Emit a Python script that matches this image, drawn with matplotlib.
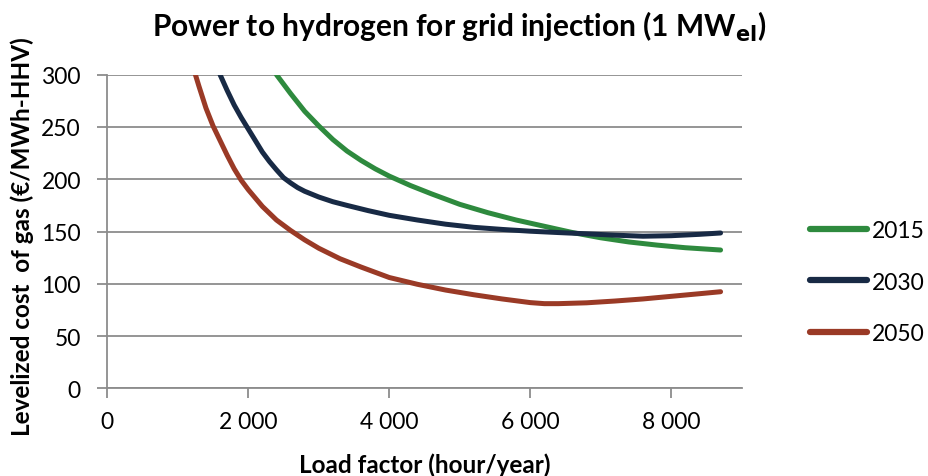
import matplotlib
matplotlib.use("Agg")
import matplotlib.pyplot as plt
from matplotlib.ticker import FuncFormatter

plt.rcParams['font.family'] = ['Lato', 'DejaVu Sans']

# Data
x_2015 = [2400, 2600, 2800, 3000, 3200, 3400, 3600, 3800, 4000, 4300, 4600, 5000, 5400, 5800,
          6200, 6600, 7000, 7400, 7800, 8200, 8700]
y_2015 = [300, 282, 265, 251, 238, 227, 218, 210, 203, 194, 186, 176, 168, 161,
          155, 149, 144, 140, 137, 134.5, 132.3]

x_2030 = [1600, 1700, 1800, 1900, 2000, 2100, 2200, 2300, 2400, 2500, 2600, 2700, 2800, 3000,
          3200, 3400, 3700, 4000, 4400, 4800, 5200, 5600, 6000, 6400, 6800, 7200, 7600, 8000,
          8400, 8700]
y_2030 = [300, 285, 271, 259, 248, 237, 226, 217, 209, 201.5, 196.5, 192, 188.5, 183,
          178.5, 175, 170, 165.5, 161, 157, 154, 152, 150.3, 149, 147.8, 146.5, 145.5, 146,
          147.3, 148.6]

x_2050 = [1250, 1300, 1400, 1500, 1600, 1700, 1800, 1900, 2000, 2200, 2400, 2600, 2800, 3000,
          3300, 3600, 4000, 4400, 4800, 5200, 5600, 6000, 6200, 6400, 6800, 7200, 7600, 8000,
          8400, 8700]
y_2050 = [300, 289, 268, 251, 237, 223, 210, 199, 190, 174, 161, 151, 142, 134,
          124, 116, 106, 99.5, 94, 89.5, 85.5, 82, 81, 81, 81.8, 83.5, 85.5, 88,
          90.5, 92.4]

series = [
    ("2015", x_2015, y_2015, "#2E8A3E"),
    ("2030", x_2030, y_2030, "#182A45"),
    ("2050", x_2050, y_2050, "#9A3A26"),
]

x_ticks = [0, 2000, 4000, 6000, 8000]
y_ticks = [0, 50, 100, 150, 200, 250, 300]

fig = plt.figure(figsize=(9.29, 4.77), dpi=100)
ax = fig.add_axes([0.1155, 0.1838, 0.6829, 0.6575])

grid_c = "#8C8C8C"
for lab, xs, ys, c in series:
    ax.plot(xs, ys, color=c, lw=3.6, solid_capstyle='round', solid_joinstyle='round', label=lab)

ax.set_xlim(0, 9000)
ax.set_ylim(0, 300)
ax.set_xticks(x_ticks)
ax.set_yticks(y_ticks)
ax.xaxis.set_major_formatter(FuncFormatter(lambda v, p: f"{int(v):,}".replace(",", " ")))
ax.yaxis.grid(True, color=grid_c, lw=1.3)
ax.set_axisbelow(True)
for s in ["top", "right"]:
    ax.spines[s].set_visible(False)
for s in ["left", "bottom"]:
    ax.spines[s].set_color(grid_c)
    ax.spines[s].set_linewidth(1.3)
ax.tick_params(axis='x', direction='out', length=7, width=1.3, color=grid_c, labelsize=16.5, pad=9)
ax.tick_params(axis='y', direction='out', length=7, width=1.3, color=grid_c, labelsize=16.5, pad=12)

fig.text(424.5 / 929, 1 - 465 / 477, "Load factor (hour/year)", ha='center', va='center',
         fontsize=17.5, fontweight='bold')
fig.text(22 / 929, 1 - 237 / 477, "Levelized cost  of gas (€/MWh-HHV)", ha='center', va='center',
         rotation=90, fontsize=17.5, fontweight='bold')

fig.text(459 / 929, 1 - 27 / 477, r"Power to hydrogen for grid injection (1 MW$_{\mathbf{el}}$)",
         ha='center', va='center', fontsize=21.5, fontweight='bold')

leg = fig.legend(loc='center left', bbox_to_anchor=(810 / 929, 1 - 283 / 477), frameon=False,
                 fontsize=16.5, handlelength=2.5, handletextpad=0.2, labelspacing=1.35,
                 borderaxespad=0, borderpad=0)
for h in leg.legend_handles:
    h.set_linewidth(4.5)
    h.set_solid_capstyle('round')

fig.savefig("out.png", dpi=100)
